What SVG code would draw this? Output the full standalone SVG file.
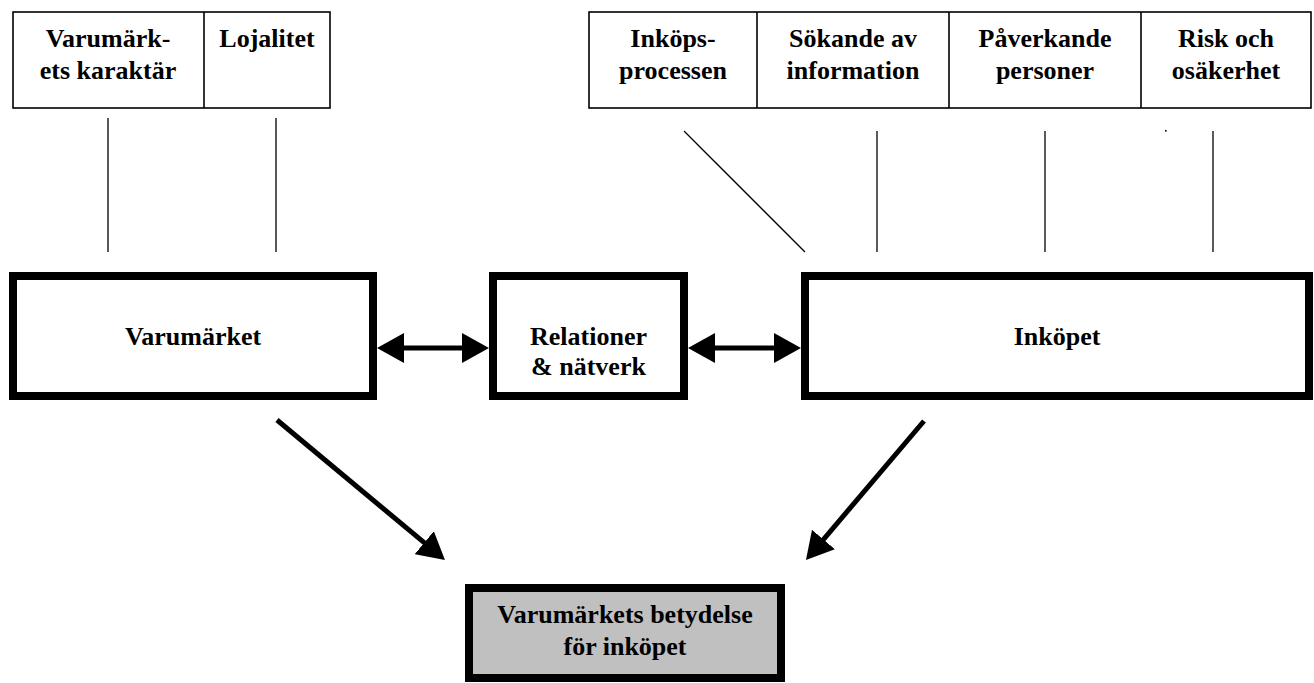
<svg xmlns="http://www.w3.org/2000/svg" width="1314" height="683" viewBox="0 0 1314 683">
<defs>
<style>
.t{font-family:"Liberation Serif","Times New Roman",serif;font-weight:bold;font-size:26px;fill:#000;text-anchor:middle}
.thin{fill:#fff;stroke:#000;stroke-width:1.6}
.thick{fill:#fff;stroke:#000;stroke-width:8}
.ln{stroke:#000;stroke-width:1.3;fill:none}
.ar{stroke:#000;stroke-width:5;fill:none}
</style>
<marker id="ah" viewBox="0 0 27 30" markerWidth="27" markerHeight="30" refX="7" refY="15" orient="auto-start-reverse" markerUnits="userSpaceOnUse">
<path d="M0,0 L27,15 L0,30 z" fill="#000"/>
</marker>
</defs>
<rect width="1314" height="683" fill="#fff"/>

<g id="top-left">
<rect class="thin" x="13" y="12" width="317" height="96"/>
<line class="ln" x1="204" y1="12" x2="204" y2="108" style="stroke-width:1.6"/>
</g>
<g id="n-karaktar">
<text class="t" x="108" y="47">Varumärk-</text>
<text class="t" x="108" y="79">ets karaktär</text>
</g>
<g id="n-lojalitet">
<text class="t" x="267" y="47">Lojalitet</text>
</g>

<g id="top-right">
<rect class="thin" x="589" y="12" width="722" height="96"/>
<line class="ln" x1="757" y1="12" x2="757" y2="108" style="stroke-width:1.6"/>
<line class="ln" x1="949" y1="12" x2="949" y2="108" style="stroke-width:1.6"/>
<line class="ln" x1="1141" y1="12" x2="1141" y2="108" style="stroke-width:1.6"/>
</g>
<g id="n-inkopsprocessen">
<text class="t" x="673" y="47">Inköps-</text>
<text class="t" x="673" y="79">processen</text>
</g>
<g id="n-sokande">
<text class="t" x="853" y="47">Sökande av</text>
<text class="t" x="853" y="79">information</text>
</g>
<g id="n-paverkande">
<text class="t" x="1045" y="47">Påverkande</text>
<text class="t" x="1045" y="79">personer</text>
</g>
<g id="n-risk">
<text class="t" x="1226" y="47">Risk och</text>
<text class="t" x="1226" y="79">osäkerhet</text>
</g>

<g id="n-varumarket">
<rect class="thick" x="13" y="276" width="360" height="120"/>
<text class="t" x="193" y="345">Varumärket</text>
</g>
<g id="n-relationer">
<rect class="thick" x="493" y="276" width="191" height="120"/>
<text class="t" x="588.5" y="345">Relationer</text>
<text class="t" x="588.5" y="375">&amp; nätverk</text>
</g>
<g id="n-inkopet">
<rect class="thick" x="805" y="276" width="504" height="120"/>
<text class="t" x="1057" y="345">Inköpet</text>
</g>
<g id="n-betydelse">
<rect class="thick" x="469" y="588" width="312" height="90" style="fill:#c0c0c0"/>
<text class="t" x="625" y="623">Varumärkets betydelse</text>
<text class="t" x="625" y="655">för inköpet</text>
</g>

<g id="connectors">
<line class="ln" x1="108" y1="118" x2="108" y2="252"/>
<line class="ln" x1="276" y1="118" x2="276" y2="252"/>
<line class="ln" x1="684" y1="131" x2="805" y2="252"/>
<line class="ln" x1="877" y1="131" x2="877" y2="252"/>
<line class="ln" x1="1045" y1="131" x2="1045" y2="252"/>
<line class="ln" x1="1213" y1="131" x2="1213" y2="252"/>
<rect x="1165" y="130" width="1.6" height="1.6" fill="#000"/>
<line class="ar" x1="397" y1="348" x2="469" y2="348" marker-start="url(#ah)" marker-end="url(#ah)"/>
<line class="ar" x1="708" y1="348" x2="781" y2="348" marker-start="url(#ah)" marker-end="url(#ah)"/>
<line class="ar" x1="277" y1="420" x2="429.6" y2="547.2" marker-end="url(#ah)"/>
<line class="ar" x1="924" y1="421" x2="818.9" y2="544.8" marker-end="url(#ah)"/>
</g>
</svg>
